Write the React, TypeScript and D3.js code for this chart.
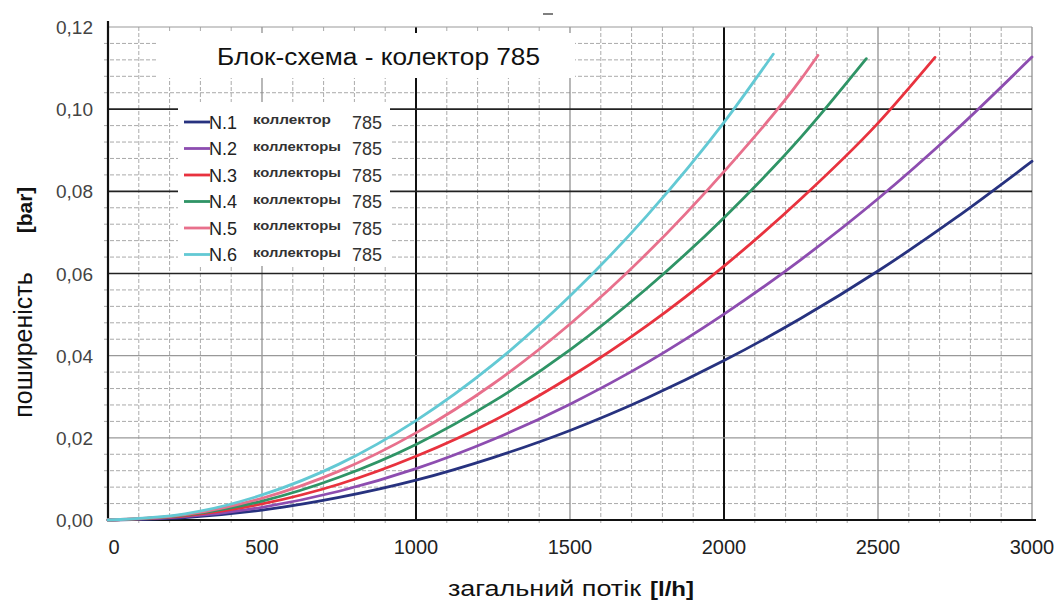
import React from "react";
import * as d3 from "d3";

const flowQ = [0, 250, 500, 750, 1000, 1250, 1500, 1750, 2000, 2250, 2500, 2750, 3000];
const n1 = [0, 0.0006, 0.0024, 0.0055, 0.0097, 0.0152, 0.0218, 0.0297, 0.0388, 0.0491, 0.0606, 0.0734, 0.0873];
const n2 = [0, 0.0008, 0.0031, 0.007, 0.0125, 0.0196, 0.0282, 0.0383, 0.0501, 0.0634, 0.0782, 0.0947, 0.1127];
const n3 = [0, 0.001, 0.0039, 0.0087, 0.0155, 0.0241, 0.0348, 0.0473, 0.0618, 0.0782, 0.0966, 0.1126];
const n4 = [0, 0.0012, 0.0046, 0.0104, 0.0184, 0.0288, 0.0414, 0.0564, 0.0736, 0.0932, 0.1123];
const n5 = [0, 0.0013, 0.0053, 0.0119, 0.0212, 0.0331, 0.0477, 0.0649, 0.0848, 0.1073, 0.1131];
const n6 = [0, 0.0015, 0.0061, 0.0136, 0.0242, 0.0378, 0.0545, 0.0741, 0.0968, 0.1134];
const endQ = [3000, 3000, 2685, 2462, 2305, 2160];

const seriesNames = ["N.1", "N.2", "N.3", "N.4", "N.5", "N.6"];
const seriesSub = ["коллектор", "коллекторы", "коллекторы", "коллекторы", "коллекторы", "коллекторы"];
const seriesColors = ["#27327f", "#8d4db0", "#e8323e", "#2f9466", "#e8708c", "#63c9d4"];
const seriesValues = [n1, n2, n3, n4, n5, n6];

const xTicks = [0, 500, 1000, 1500, 2000, 2500, 3000];
const yTicks = [0, 0.02, 0.04, 0.06, 0.08, 0.1, 0.12];

export default function App() {
  const W = 1054, H = 604;
  const x = d3.scaleLinear().domain([0, 3000]).range([108, 1032]);
  const y = d3.scaleLinear().domain([0, 0.12]).range([520, 27]);

  const seriesPts = seriesValues.map((vals, i) => {
    const pts: [number, number][] = vals.map((v, j) => {
      const q = j < vals.length - 1 || vals.length === flowQ.length ? flowQ[j] : endQ[i];
      return [q, v];
    });
    return pts;
  });

  const line = d3.line<[number, number]>().x(d => x(d[0])).y(d => y(d[1])).curve(d3.curveMonotoneX);

  const minorX = d3.range(100, 3000, 100).filter(v => v % 500 !== 0);
  const minorY = d3.range(1, 30).map(i => i * 0.004).filter(v => Math.abs(v / 0.02 - Math.round(v / 0.02)) > 1e-6);

  const font = "Arial, 'Liberation Sans', sans-serif";

  return (
    <svg width={W} height={H} style={{ position: "absolute", left: 0, top: 0, background: "#fff" }}>
      <rect x={0} y={0} width={W} height={H} fill="#fff" />
      {/* minor grid */}
      {minorX.map(v => (
        <line key={"mx" + v} x1={x(v)} x2={x(v)} y1={y(0.12)} y2={y(0) + 4} stroke="#aaa" strokeWidth={1} strokeDasharray="4,2" />
      ))}
      {minorY.map(v => (
        <line key={"my" + v} x1={x(0) - 4} x2={x(3000)} y1={y(v)} y2={y(v)} stroke="#aaa" strokeWidth={1} strokeDasharray="4,2" />
      ))}
      {/* major grid */}
      {[500, 1500, 2500, 3000].map(v => (
        <line key={"gx" + v} x1={x(v)} x2={x(v)} y1={y(0.12)} y2={y(0)} stroke="#888" strokeWidth={1.2} />
      ))}
      {[1000, 2000].map(v => (
        <line key={"bx" + v} x1={x(v)} x2={x(v)} y1={y(0.12)} y2={y(0)} stroke="#111" strokeWidth={2} />
      ))}
      {[0.02, 0.04, 0.12].map(v => (
        <line key={"gy" + v} x1={x(0)} x2={x(3000)} y1={y(v)} y2={y(v)} stroke="#999" strokeWidth={1.2} />
      ))}
      {[0.06, 0.08, 0.1].map(v => (
        <line key={"by" + v} x1={x(0)} x2={x(3000)} y1={y(v)} y2={y(v)} stroke="#222" strokeWidth={1.6} />
      ))}
      {/* axes */}
      <line x1={x(0)} x2={x(0)} y1={y(0.12) - 6} y2={y(0)} stroke="#111" strokeWidth={2.2} />
      <line x1={x(0)} x2={x(3000) + 4} y1={y(0)} y2={y(0)} stroke="#111" strokeWidth={2.2} />

      {/* title box */}
      <rect x={158} y={33} width={417} height={45} fill="#fff" />
      <text x={217} y={65} fontFamily={font} fontSize={23} fill="#111" textLength={323} lengthAdjust="spacingAndGlyphs">Блок-схема - колектор 785</text>

      {/* legend box */}
      <rect x={178} y={102} width={212} height={164} fill="#fff" />

      {/* curves */}
      {seriesPts.map((pts, i) => (
        <path key={"s" + i} d={line(pts) || ""} fill="none" stroke={seriesColors[i]} strokeWidth={2.8} strokeLinecap="round" />
      ))}

      {/* legend entries */}
      {seriesNames.map((n, i) => {
        const ly = 122 + i * 26.5;
        return (
          <g key={"lg" + i}>
            <line x1={184} x2={210} y1={ly} y2={ly} stroke={seriesColors[i]} strokeWidth={2.8} />
            <text x={209} y={ly + 6.5} fontFamily={font} fontSize={18} fill="#222">{n}</text>
            <text x={253} y={ly + 2} fontFamily={font} fontSize={12} fontWeight="bold" fill="#333" textLength={i === 0 ? 78 : 88} lengthAdjust="spacingAndGlyphs">{seriesSub[i]}</text>
            <text x={352} y={ly + 6.5} fontFamily={font} fontSize={18} fill="#333">785</text>
          </g>
        );
      })}

      {/* tick labels */}
      {xTicks.map(v => (
        <text key={"xt" + v} x={x(v) + (v === 0 ? 6 : 0)} y={554} textAnchor="middle" fontFamily={font} fontSize={20} fill="#222">{v}</text>
      ))}
      {yTicks.map(v => (
        <text key={"yt" + v} x={93} y={y(v) + 7} textAnchor="end" fontFamily={font} fontSize={19} fill="#444">{d3.format(".2f")(v).replace(".", ",")}</text>
      ))}

      {/* axis titles */}
      <text x={448} y={596} fontFamily={font} fontSize={22} fill="#111" textLength={193} lengthAdjust="spacingAndGlyphs">загальний потік</text>
      <text x={650} y={596} fontFamily={font} fontSize={21} fontWeight="bold" fill="#111" textLength={44} lengthAdjust="spacingAndGlyphs">[l/h]</text>
      <text transform="translate(32,345) rotate(-90)" textAnchor="middle" fontFamily={font} fontSize={25} fill="#111">поширеність</text>
      <text transform="translate(32,210) rotate(-90)" textAnchor="middle" fontFamily={font} fontSize={21} fontWeight="bold" fill="#111">[bar]</text>
      <line x1={543} x2={553} y1={14} y2={14} stroke="#555" strokeWidth={1.5} />
    </svg>
  );
}
